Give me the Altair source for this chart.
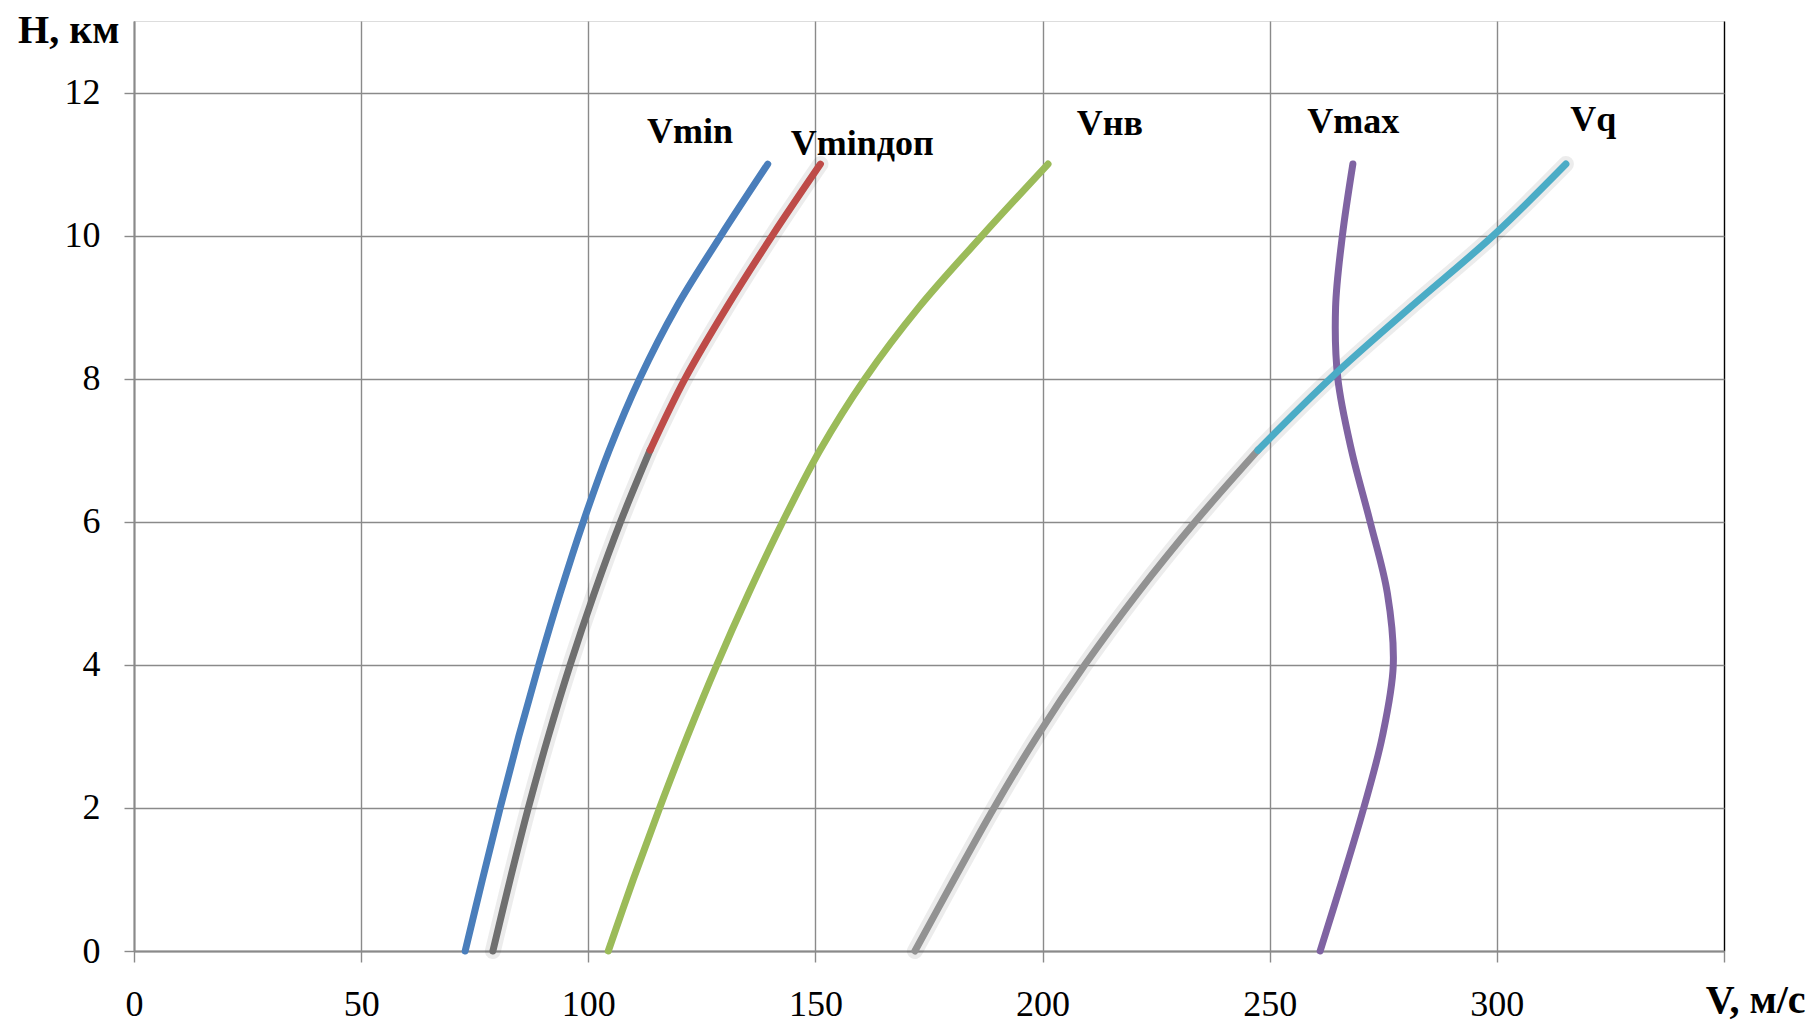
import altair as alt
import pandas as pd

# ---- data ----
H = [0, 1, 2, 3, 4, 5, 6, 7, 8, 9, 10, 11]
V_MIN = [72.9, 76.7, 80.6, 84.7, 89.1, 93.8, 98.9, 104.6, 111.3, 119.4, 129.2, 139.5]
V_MIN_DOP = [79.0, 82.8, 86.8, 91.2, 96.0, 101.3, 107.1, 113.6, 121.3, 130.5, 140.5, 151.1]
V_NV = [104.4, 109.9, 115.7, 121.8, 128.3, 135.3, 142.8, 151.0, 160.9, 172.8, 186.7, 201.2]
V_MAX = [261.1, 266.0, 270.7, 274.8, 277.2, 275.9, 272.1, 268.0, 265.0, 264.5, 266.0, 268.3]
V_Q = [171.9, 180.5, 189.3, 198.8, 209.3, 220.9, 233.6, 247.4, 263.3, 281.0, 299.2, 315.2]
SPLIT_H = 7  # where Vminдоп and Vq change colour

LABELS = ["Vmin", "Vminдоп", "Vнв", "Vmax", "Vq"]
LABEL_V = [122.4, 160.3, 214.8, 268.4, 321.2]
LABEL_H = [11.30, 11.13, 11.40, 11.44, 11.46]

X_TICKS = [0, 50, 100, 150, 200, 250, 300, 350]
Y_TICKS = [0, 2, 4, 6, 8, 10, 12]

SEGMENTS = ["Vmin", "Vminдоп_low", "Vminдоп_high", "Vнв", "Vmax", "Vq_low", "Vq_high"]
COLORS = ["#4a7ebb", "#6f6f6f", "#be4b48", "#9bbb59", "#7f63a2", "#929292", "#4bacc6"]

rows = []
def add(series, values, split=False):
    for h, v in zip(H, values):
        if split:
            if h <= SPLIT_H:
                rows.append({"series": series, "seg": series + "_low", "H": h, "V": v})
            if h >= SPLIT_H:
                rows.append({"series": series, "seg": series + "_high", "H": h, "V": v})
        else:
            rows.append({"series": series, "seg": series, "H": h, "V": v})

add("Vmin", V_MIN)
add("Vminдоп", V_MIN_DOP, split=True)
add("Vнв", V_NV)
add("Vmax", V_MAX)
add("Vq", V_Q, split=True)
df = pd.DataFrame(rows)
lab = pd.DataFrame({"text": LABELS, "V": LABEL_V, "H": LABEL_H})

FONT = "Liberation Serif"
GRID = "#8a8a8a"

x_enc = alt.X(
    "V:Q",
    scale=alt.Scale(domain=[0, 350], nice=False, zero=False),
    axis=alt.Axis(
        values=X_TICKS,
        labelExpr="datum.value == 350 ? '' : datum.label",
        grid=True,
        gridColor={"condition": {"test": "datum.value === 350", "value": "black"}, "value": GRID},
        gridWidth=1.4,
        domainColor=GRID, domainWidth=2,
        tickColor=GRID, tickWidth=1.4, tickSize=11,
        labelFont=FONT, labelFontSize=36, labelColor="black", labelPadding=25,
        labelFlush=False, labelOverlap=False,
        title="V, м/с", titleFont=FONT, titleFontSize=40, titleFontWeight="bold",
        titleColor="black", titleAlign="right", titleBaseline="alphabetic",
        titleX=1671, titleY=61,
    ),
)
y_enc = alt.Y(
    "H:Q",
    scale=alt.Scale(domain=[0, 13], nice=False, zero=False),
    axis=alt.Axis(
        values=Y_TICKS,
        grid=True, gridColor=GRID, gridWidth=1.4,
        domainColor=GRID, domainWidth=2,
        tickColor=GRID, tickWidth=1.4, tickSize=10,
        labelFont=FONT, labelFontSize=36, labelColor="black", labelPadding=24,
        labelFlush=False, labelOverlap=False,
        title="H, км", titleFont=FONT, titleFontSize=40, titleFontWeight="bold",
        titleColor="black", titleAngle=0, titleAlign="right", titleBaseline="alphabetic",
        titleX=-15, titleY=21,
    ),
)

base = alt.Chart(df)

shadow = base.transform_filter(
    alt.FieldOneOfPredicate(field="series", oneOf=["Vminдоп", "Vq"])
).mark_line(
    interpolate="catmull-rom", strokeWidth=16, opacity=0.1, color="#444", strokeCap="round"
).encode(x=x_enc, y=y_enc, detail="series:N", order="H:Q")

lines = base.mark_line(
    interpolate="catmull-rom", strokeWidth=7, strokeCap="round", strokeJoin="round"
).encode(
    x=x_enc,
    y=y_enc,
    color=alt.Color("seg:N", scale=alt.Scale(domain=SEGMENTS, range=COLORS), legend=None),
    detail="seg:N",
    order="H:Q",
)

texts = alt.Chart(lab).mark_text(
    font=FONT, fontSize=36, fontWeight="bold", color="black",
    align="center", baseline="alphabetic",
).encode(x=x_enc, y=y_enc, text="text:N")

chart = alt.layer(shadow, lines, texts).properties(
    width=1590, height=930,
    autosize=alt.AutoSizeParams(type="none"),
    padding={"left": 126, "top": 13, "right": 82, "bottom": 72},
).configure_view(
    stroke="black", strokeWidth=1.5
).configure(background="white")

chart.save("out.html", embed_options={"renderer": "svg", "actions": False})
